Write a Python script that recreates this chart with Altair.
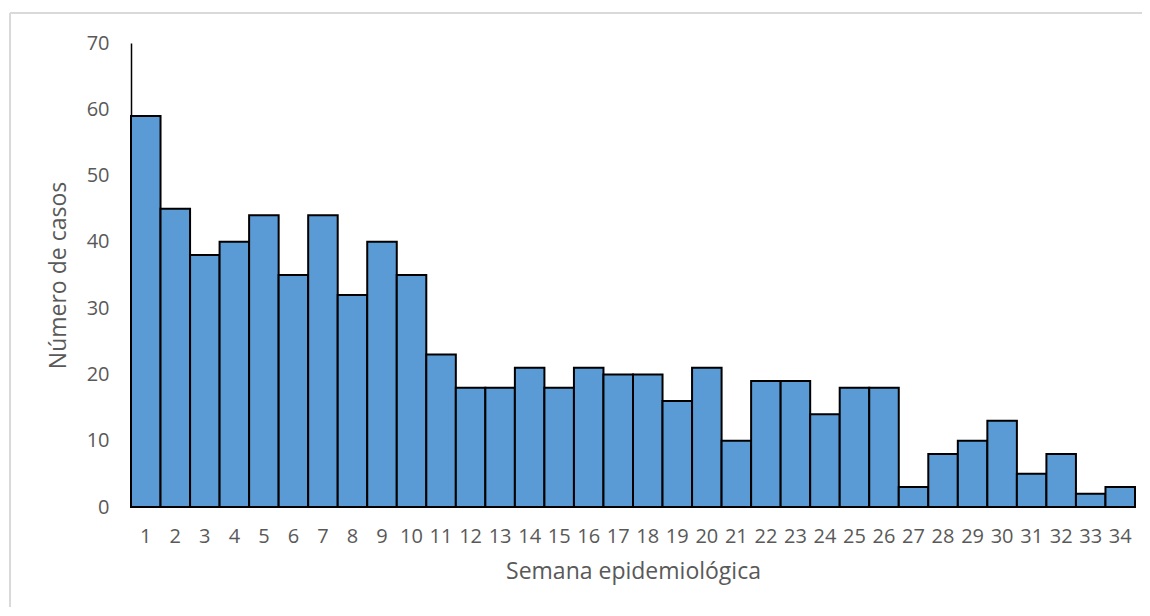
import altair as alt
import pandas as pd

semanas = list(range(1, 35))
casos = [59, 45, 38, 40, 44, 35, 44, 32, 40, 35, 23, 18, 18, 21, 18, 21, 20, 20, 16, 21,
         10, 19, 19, 14, 18, 18, 3, 8, 10, 13, 5, 8, 2, 3]
y_ticks = [0, 10, 20, 30, 40, 50, 60, 70]

df = pd.DataFrame({"semana": semanas, "casos": casos})

FONT = "Open Sans"
GRAY = "#595959"

bars = alt.Chart(df).mark_bar(color="#5B9BD5", stroke="black", strokeWidth=2).encode(
    x=alt.X("semana:O", scale=alt.Scale(paddingInner=0, paddingOuter=0),
            axis=alt.Axis(title="Semana epidemiológica", labelAngle=0, domain=False, ticks=False,
                          labelPadding=19, titlePadding=14, labelFontSize=20, titleFontSize=23,
                          labelColor=GRAY, titleColor=GRAY, labelFont=FONT, titleFont=FONT,
                          titleFontWeight="normal")),
    y=alt.Y("casos:Q", scale=alt.Scale(domain=[0, 70], nice=False),
            axis=alt.Axis(title="Número de casos", values=y_ticks, grid=False, ticks=False,
                          domainColor="black", domainWidth=1.5, labelPadding=22,
                          titlePadding=16, labelFontSize=20, titleFontSize=23,
                          labelColor=GRAY, titleColor=GRAY, labelFont=FONT, titleFont=FONT,
                          titleFontWeight="normal")),
)

top_edge = alt.Chart(df).mark_rule(stroke="#D9D9D9", strokeWidth=1.5, clip=False).encode(
    x=alt.value(-121), x2=alt.value(1011), y=alt.value(-30)
)
left_edge = alt.Chart(df).mark_rule(stroke="#D9D9D9", strokeWidth=1.5, clip=False).encode(
    x=alt.value(-121), y=alt.value(-30), y2=alt.value(570)
)

chart = alt.layer(top_edge, left_edge, bars).properties(
    width=1004, height=464,
    padding={"left": 123, "top": 35, "right": 7, "bottom": 100},
    autosize=alt.AutoSizeParams(type="none"),
).configure_view(stroke=None)

chart.save("out.html", embed_options={"renderer": "svg", "actions": False})
